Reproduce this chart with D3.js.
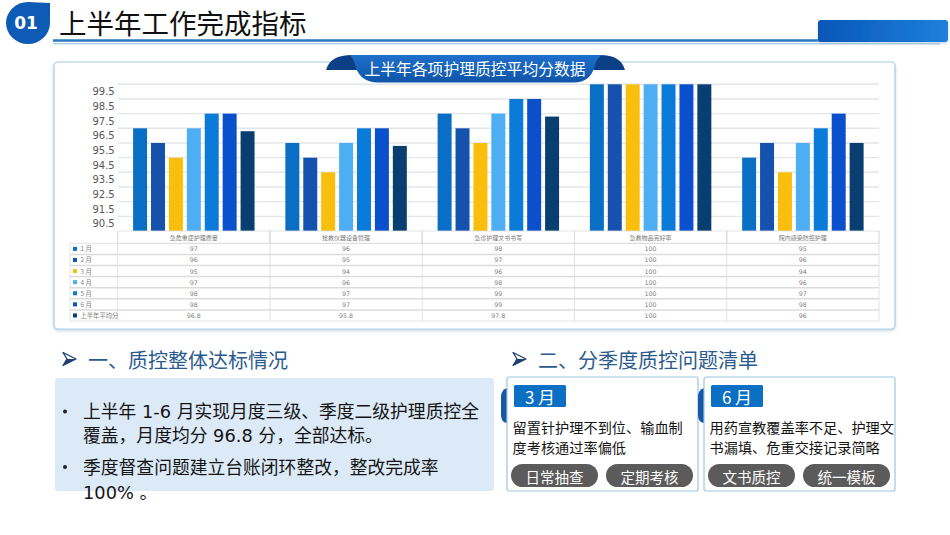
<!DOCTYPE html>
<html>
<head>
<meta charset="utf-8">
<script src="https://cdn.jsdelivr.net/npm/d3@7"></script>
<style>
  body { margin: 0; background: #fff; }
  svg { display: block; font-family: "Noto Sans CJK SC", "Noto Sans", sans-serif; }
</style>
</head>
<body>
<div id="chart"></div>
<script>
// Data
var categories = ["急危重症护理质量", "抢救仪器设备管理", "急诊护理文书书写", "急救物品完好率", "院内感染防控护理"]
var seriesNames = ["1 月", "2 月", "3 月", "4 月", "5 月", "6 月", "上半年平均分"]
var jan = [97, 96, 98, 100, 95]
var feb = [96, 95, 97, 100, 96]
var mar = [95, 94, 96, 100, 94]
var apr = [97, 96, 98, 100, 96]
var may = [98, 97, 99, 100, 97]
var jun = [98, 97, 99, 100, 98]
var avg = [96.8, 95.8, 97.8, 100, 96]
var yTicks = [90.5, 91.5, 92.5, 93.5, 94.5, 95.5, 96.5, 97.5, 98.5, 99.5]
var gridValues = [91, 92, 93, 94, 95, 96, 97, 98, 99, 100]

var seriesValues = [jan, feb, mar, apr, may, jun, avg]
var colors = ["#0a6ec4", "#1452ae", "#f9bf0c", "#4eaef3", "#0a7bd8", "#0a4fcb", "#083f70"]

var svgWidth = 950
var svgHeight = 535

var svg = d3.select("#chart")
  .append("svg")
  .attr("width", svgWidth)
  .attr("height", svgHeight)

var defs = svg.append("defs")

var shadow = defs.append("filter").attr("id", "shadow")
  .attr("x", "-5%").attr("y", "-5%").attr("width", "110%").attr("height", "115%")
shadow.append("feDropShadow")
  .attr("dx", 0).attr("dy", 1.5).attr("stdDeviation", 1.5)
  .attr("flood-color", "#7fa9c9").attr("flood-opacity", 0.45)

var ribbonGrad = defs.append("linearGradient").attr("id", "ribbonGrad")
  .attr("x1", 0).attr("y1", 0).attr("x2", 0).attr("y2", 1)
ribbonGrad.append("stop").attr("offset", "0%").attr("stop-color", "#1f6fcb")
ribbonGrad.append("stop").attr("offset", "100%").attr("stop-color", "#0f55a8")

var tabGrad = defs.append("linearGradient").attr("id", "tabGrad")
  .attr("x1", 0).attr("y1", 0).attr("x2", 1).attr("y2", 0)
tabGrad.append("stop").attr("offset", "0%").attr("stop-color", "#0a56b8")
tabGrad.append("stop").attr("offset", "100%").attr("stop-color", "#1d80dc")

// ---------- Header ----------
svg.append("path")
  .attr("d", "M 50,3 L 50,23 A 22,21 0 1 1 28,2 Z")
  .attr("fill", "#0d5bb5")
svg.append("text")
  .attr("x", 26).attr("y", 23)
  .attr("text-anchor", "middle")
  .attr("dominant-baseline", "central")
  .attr("fill", "#fff")
  .attr("font-family", "'DejaVu Sans', sans-serif")
  .attr("font-weight", "bold")
  .attr("font-size", 17)
  .text("01")

svg.append("text")
  .attr("x", 59).attr("y", 22)
  .attr("dominant-baseline", "central")
  .attr("fill", "#111")
  .attr("font-size", 27.5)
  .text("上半年工作完成指标")

svg.append("line")
  .attr("x1", 53).attr("x2", 940).attr("y1", 40.5).attr("y2", 40.5)
  .attr("stroke", "#2c78c2").attr("stroke-width", 2.5)
svg.append("line")
  .attr("x1", 53).attr("x2", 940).attr("y1", 43.8).attr("y2", 43.8)
  .attr("stroke", "#b3d1ea").attr("stroke-width", 1.5)

svg.append("rect")
  .attr("x", 818).attr("y", 20).attr("width", 130).attr("height", 22).attr("rx", 3)
  .attr("fill", "url(#tabGrad)")
  .attr("filter", "url(#shadow)")

// ---------- Chart panel ----------
svg.append("rect")
  .attr("x", 54).attr("y", 62).attr("width", 841).attr("height", 267).attr("rx", 4)
  .attr("fill", "#fff")
  .attr("stroke", "#a9cde3").attr("stroke-width", 1.2)
  .attr("filter", "url(#shadow)")

// ribbon title
svg.append("path")
  .attr("d", "M 326,70 Q 330,55 352,55 L 600,55 Q 621,55 625,70 Z")
  .attr("fill", "#0c3f86")
svg.append("path")
  .attr("d", "M 350,55 L 602,55 Q 596,59 594,68 Q 590,82 574,82.5 L 378,82.5 Q 361,82 356,68 Q 354,59 350,55 Z")
  .attr("fill", "url(#ribbonGrad)")
svg.append("text")
  .attr("x", 475).attr("y", 68.5)
  .attr("text-anchor", "middle")
  .attr("dominant-baseline", "central")
  .attr("fill", "#fff")
  .attr("font-size", 15.8)
  .text("上半年各项护理质控平均分数据")

var plotLeft = 117.7
var plotRight = 879
var plotTop = 84.3
var plotBottom = 231

var x0 = d3.scaleBand()
  .domain(categories)
  .range([plotLeft, plotRight])

var x1 = d3.scaleBand()
  .domain(seriesNames)
  .range([0, x0.bandwidth()])
  .paddingInner(0.22)
  .paddingOuter(0.86)

var y = d3.scaleLinear()
  .domain([90, 100])
  .range([plotBottom, plotTop])

// gridlines
svg.append("g").selectAll("line")
  .data(gridValues)
  .enter()
  .append("line")
  .attr("x1", plotLeft).attr("x2", plotRight)
  .attr("y1", d => y(d)).attr("y2", d => y(d))
  .attr("stroke", "#e3e6ea").attr("stroke-width", 1.4)

// y labels (sit on half values, as on the slide)
var leftAxis = d3.axisLeft(y).tickValues(yTicks).tickSize(0).tickPadding(0)
  .tickFormat(d3.format(".1f"))
var yAxis = svg.append("g")
  .attr("transform", `translate(${plotLeft - 3}, 0)`)
  .call(leftAxis)
yAxis.select(".domain").remove()
yAxis.selectAll("text")
  .attr("fill", "#595959")
  .attr("font-size", 10)
  .attr("font-family", "'DejaVu Sans', sans-serif")

// bars
var groups = svg.append("g").selectAll("g")
  .data(seriesNames)
  .enter()
  .append("g")
  .attr("fill", (d, i) => colors[i])

groups.selectAll("rect")
  .data((s, i) => categories.map((c, j) => ({ cat: c, series: s, value: seriesValues[i][j] })))
  .enter()
  .append("rect")
  .attr("x", d => x0(d.cat) + x1(d.series))
  .attr("y", d => y(d.value))
  .attr("width", x1.bandwidth())
  .attr("height", d => y(90) - y(d.value))

// ---------- Data table ----------
var tableLeft = 70
var headerTop = plotBottom
var rowTop = 243.3
var rowH = 11.1
var tableBottom = rowTop + rowH * seriesNames.length
var gridColor = "#dcdcdc"
var table = svg.append("g")

// header cells
table.selectAll(".hdr")
  .data(categories)
  .enter()
  .append("rect")
  .attr("x", d => x0(d))
  .attr("y", headerTop)
  .attr("width", x0.bandwidth())
  .attr("height", rowTop - headerTop)
  .attr("fill", "none")
  .attr("stroke", gridColor).attr("stroke-width", 0.8)

table.selectAll(".hdrText")
  .data(categories)
  .enter()
  .append("text")
  .attr("x", d => x0(d) + x0.bandwidth() / 2)
  .attr("y", (headerTop + rowTop) / 2)
  .attr("text-anchor", "middle")
  .attr("dominant-baseline", "central")
  .attr("fill", "#7a7a7a")
  .attr("font-size", 6)
  .text(d => d)

// row lines
table.selectAll(".rowLine")
  .data(d3.range(seriesNames.length + 1))
  .enter()
  .append("line")
  .attr("x1", tableLeft).attr("x2", plotRight)
  .attr("y1", d => rowTop + d * rowH).attr("y2", d => rowTop + d * rowH)
  .attr("stroke", gridColor).attr("stroke-width", d => (d === 0 || d === seriesNames.length) ? 0.8 : 1.5)

// column lines
var colEdges = [tableLeft].concat(categories.map(c => x0(c)), [plotRight])
table.selectAll(".colLine")
  .data(colEdges)
  .enter()
  .append("line")
  .attr("x1", d => d).attr("x2", d => d)
  .attr("y1", (d, i) => i === 0 ? rowTop : headerTop)
  .attr("y2", tableBottom)
  .attr("stroke", gridColor).attr("stroke-width", 0.8)

var rows = table.selectAll(".row")
  .data(seriesNames)
  .enter()
  .append("g")
  .attr("transform", (d, i) => `translate(0, ${rowTop + i * rowH + rowH / 2})`)

rows.append("rect")
  .attr("x", 73).attr("y", -2).attr("width", 4).attr("height", 4)
  .attr("fill", (d, i) => colors[i])

rows.append("text")
  .attr("x", 80.5)
  .attr("dominant-baseline", "central")
  .attr("fill", "#808080")
  .attr("font-size", 6.3)
  .text(d => d)

rows.selectAll(".val")
  .data((s, i) => categories.map((c, j) => ({ cat: c, value: seriesValues[i][j] })))
  .enter()
  .append("text")
  .attr("x", d => x0(d.cat) + x0.bandwidth() / 2)
  .attr("text-anchor", "middle")
  .attr("dominant-baseline", "central")
  .attr("fill", "#808080")
  .attr("font-size", 6.3)
  .attr("font-family", "'DejaVu Sans', sans-serif")
  .text(d => String(d.value))

// ---------- Bottom left ----------
function arrowHead(g, ax, ay) {
  g.append("path")
    .attr("d", `M ${ax},${ay - 6.5} L ${ax + 13},${ay} L ${ax},${ay + 6.5} L ${ax + 4},${ay} Z`)
    .attr("fill", "#fff")
    .attr("stroke", "#1f3f6e").attr("stroke-width", 1.3)
    .attr("stroke-linejoin", "round")
  g.append("path")
    .attr("d", `M ${ax + 4},${ay} L ${ax + 13},${ay} L ${ax},${ay + 6.5} Z`)
    .attr("fill", "#1f3f6e")
}

arrowHead(svg, 63, 359)
svg.append("text")
  .attr("x", 88).attr("y", 359.5)
  .attr("dominant-baseline", "central")
  .attr("fill", "#2b5b8e")
  .attr("font-size", 20)
  .text("一、质控整体达标情况")

svg.append("rect")
  .attr("x", 55).attr("y", 378).attr("width", 439).attr("height", 113).attr("rx", 3)
  .attr("fill", "#dce9f6")

var bulletLines = [
  { text: "上半年 1-6 月实现月度三级、季度二级护理质控全", y: 411.5, bullet: true },
  { text: "覆盖，月度均分 96.8 分，全部达标。", y: 435.5, bullet: false },
  { text: "季度督查问题建立台账闭环整改，整改完成率", y: 467, bullet: true },
  { text: "100% 。", y: 492, bullet: false }
]

svg.append("g").selectAll("text")
  .data(bulletLines)
  .enter()
  .append("text")
  .attr("x", 83).attr("y", d => d.y)
  .attr("dominant-baseline", "central")
  .attr("fill", "#141414")
  .attr("font-family", "'DejaVu Sans', 'Noto Sans CJK SC', sans-serif")
  .attr("font-size", 17.8)
  .text(d => d.text)

svg.append("g").selectAll("circle")
  .data(bulletLines.filter(d => d.bullet))
  .enter()
  .append("circle")
  .attr("cx", 65).attr("cy", d => d.y)
  .attr("r", 2)
  .attr("fill", "#222")

// ---------- Bottom right ----------
arrowHead(svg, 513, 359)
svg.append("text")
  .attr("x", 538).attr("y", 359.5)
  .attr("dominant-baseline", "central")
  .attr("fill", "#2b5b8e")
  .attr("font-size", 20)
  .text("二、分季度质控问题清单")

var cards = [
  { x: 507, month: "3 月", lines: ["留置针护理不到位、输血制", "度考核通过率偏低"], tags: ["日常抽查", "定期考核"] },
  { x: 704, month: "6 月", lines: ["用药宣教覆盖率不足、护理文", "书漏填、危重交接记录简略"], tags: ["文书质控", "统一模板"] }
]

var card = svg.append("g").selectAll("g")
  .data(cards)
  .enter()
  .append("g")
  .attr("transform", d => `translate(${d.x}, 377)`)

card.append("path")
  .attr("d", "M 0,11 Q -6,13 -6,20 L -6,38 Q -6,45 0,46 Z")
  .attr("fill", "#1657a8")

card.append("rect")
  .attr("x", 0).attr("y", 0).attr("width", 191).attr("height", 114).attr("rx", 2)
  .attr("fill", "#fff")
  .attr("stroke", "#9cc6e2").attr("stroke-width", 1.2)

card.append("rect")
  .attr("x", 7).attr("y", 8).attr("width", 52).attr("height", 22).attr("rx", 1.5)
  .attr("fill", "#0b6fc3")

card.append("text")
  .attr("x", 33).attr("y", 19.5)
  .attr("text-anchor", "middle")
  .attr("dominant-baseline", "central")
  .attr("fill", "#fff")
  .attr("font-size", 17)
  .text(d => d.month)

card.selectAll(".line")
  .data(d => d.lines)
  .enter()
  .append("text")
  .attr("x", 5.5)
  .attr("y", (d, i) => 49.5 + i * 20.5)
  .attr("dominant-baseline", "central")
  .attr("fill", "#141414")
  .attr("font-size", 14.2)
  .text(d => d)

var tag = card.selectAll(".tag")
  .data(d => d.tags)
  .enter()
  .append("g")
  .attr("transform", (d, i) => `translate(${4 + i * 95}, 87)`)

tag.append("rect")
  .attr("width", 87).attr("height", 23).attr("rx", 11.5)
  .attr("fill", "#5b5b5b")

tag.append("text")
  .attr("x", 43.5).attr("y", 12)
  .attr("text-anchor", "middle")
  .attr("dominant-baseline", "central")
  .attr("fill", "#fff")
  .attr("font-size", 14.5)
  .text(d => d)
</script>
</body>
</html>
